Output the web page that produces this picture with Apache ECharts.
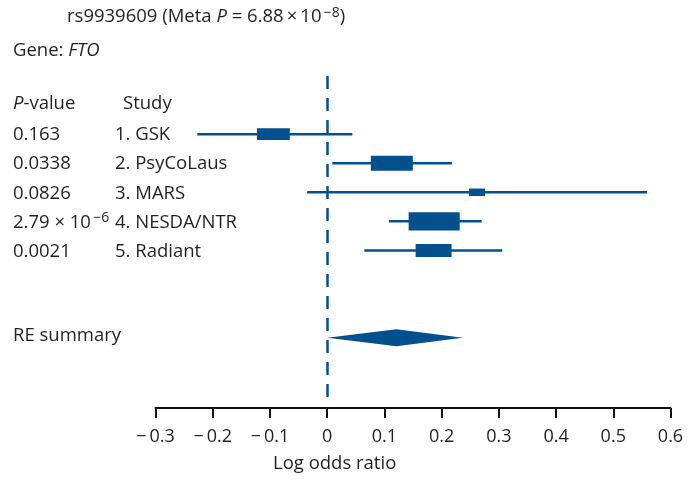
<!DOCTYPE html>
<html><head><meta charset="utf-8">
<script src="https://cdn.jsdelivr.net/npm/echarts@6/dist/echarts.min.js"></script>
<style>html,body{margin:0;padding:0;background:#fff}#c{width:696px;height:491px}</style>
</head><body><div id="c"></div>
<script>
// ---- data ----
const snp = 'rs9939609';
const metaP = '6.88e-8';
const gene = 'FTO';
const studies = ['1. GSK', '2. PsyCoLaus', '3. MARS', '4. NESDA/NTR', '5. Radiant'];
const pValues = ['0.163', '0.0338', '0.0826', '2.79e-6', '0.0021'];
const estimates = [-0.094, 0.113, 0.262, 0.187, 0.186];
const lowerCI = [-0.227, 0.009, -0.035, 0.108, 0.065];
const upperCI = [0.044, 0.218, 0.559, 0.270, 0.306];
const weights = [18.5, 23.6, 9.0, 28.7, 20.2];
const summaryLabel = 'RE summary';
const summaryEstimate = [0.121];
const summaryLower = [0.000];
const summaryUpper = [0.237];
const xTicks = [-0.3, -0.2, -0.1, 0, 0.1, 0.2, 0.3, 0.4, 0.5, 0.6];
const xAxisTitle = 'Log odds ratio';

// ---- styles ----
const BLUE = '#03508e';
const TXT = '#231f20';
const FONT = '"Open Sans", "Liberation Sans", sans-serif';
const FS = 18.5;
const summaryRow = studies.length + 2;

function fmtP(s) {
  if (s.indexOf('e') >= 0) {
    const parts = s.split('e');
    return parts[0] + ' \u00d7 10{sup|\u2009' + parts[1].replace('-', '\u2212') + '}';
  }
  return s;
}
const rich = {
  sup: { fontSize: 14, fontFamily: FONT, fill: TXT, color: TXT, verticalAlign: 'top', lineHeight: 22 },
  i: { fontStyle: 'italic', fontSize: FS, fontFamily: FONT, fill: TXT, color: TXT, lineHeight: 22 }
};

const chart = echarts.init(document.getElementById('c'));
chart.setOption({
  animation: false,
  backgroundColor: '#fff',
  grid: { left: 155.5, right: 25.5, top: 76, bottom: 83, containLabel: false },
  xAxis: {
    type: 'value', min: xTicks[0], max: xTicks[xTicks.length - 1], interval: 0.1,
    splitLine: { show: false },
    axisLine: { show: true, onZero: false, lineStyle: { color: '#111', width: 2 } },
    axisTick: { show: true, inside: false, length: 10, lineStyle: { color: '#111', width: 2 } },
    axisLabel: {
      margin: 20, fontSize: 18, fontFamily: FONT, color: TXT,
      formatter: v => {
        const r = Math.round(v * 10) / 10;
        return r < 0 ? '\u2212\u2009' + Math.abs(r).toFixed(1) : (r === 0 ? '0' : r.toFixed(1));
      }
    }
  },
  yAxis: { type: 'value', inverse: true, min: -2, max: 9.42, show: false },
  graphic: [
    { type: 'text', left: 67, top: 6, style: { text: snp + ' (Meta {i|P} = ' + fmtP(metaP).replace(' \u00d7 ', '\u2009\u00d7\u2009') + ')', rich: rich, font: FS + 'px ' + FONT, fill: TXT, lineHeight: 22 } },
    { type: 'text', left: 13, top: 40, style: { text: 'Gene: {i|' + gene + '}', rich: rich, font: FS + 'px ' + FONT, fill: TXT, lineHeight: 22 } },
    { type: 'text', left: 13, top: 93, style: { text: '{i|P}-value', rich: rich, font: FS + 'px ' + FONT, fill: TXT, lineHeight: 22 } },
    { type: 'text', left: 123, top: 93, style: { text: 'Study', font: FS + 'px ' + FONT, fill: TXT, lineHeight: 22 } },
    { type: 'text', left: 273, top: 453, style: { text: xAxisTitle, font: '18.5px ' + FONT, fill: TXT, lineHeight: 22 } }
  ],
  series: [
    {
      type: 'custom', name: 'labels',
      data: studies.map((s, i) => [i]),
      encode: { y: 0 },
      renderItem: (params, api) => {
        const i = params.dataIndex;
        const y = api.coord([0, api.value(0)])[1] + 1;
        return {
          type: 'group', children: [
            { type: 'text', x: 13, y: y, style: { text: fmtP(pValues[i]), rich: rich, font: FS + 'px ' + FONT, fill: TXT, verticalAlign: 'middle', lineHeight: 22 } },
            { type: 'text', x: 115, y: y, style: { text: studies[i], font: FS + 'px ' + FONT, fill: TXT, verticalAlign: 'middle', lineHeight: 22 } }
          ]
        };
      }
    },
    {
      type: 'custom', name: 'studies',
      data: studies.map((s, i) => [i, lowerCI[i], estimates[i], upperCI[i], weights[i]]),
      encode: { x: [1, 2, 3], y: 0 },
      renderItem: (params, api) => {
        const y = api.coord([0, api.value(0)])[1];
        const xl = api.coord([api.value(1), 0])[0];
        const xe = api.coord([api.value(2), 0])[0];
        const xu = api.coord([api.value(3), 0])[0];
        const w = api.value(4) * 1.78;
        const h = Math.max(7.5, w * 0.36);
        return {
          type: 'group', children: [
            { type: 'line', shape: { x1: xl, y1: y, x2: xu, y2: y }, style: { stroke: BLUE, lineWidth: 2.5 } },
            { type: 'rect', shape: { x: xe - w / 2, y: y - h / 2, width: w, height: h }, style: { fill: BLUE } }
          ]
        };
      },
      markLine: {
        silent: true, symbol: 'none', label: { show: false },
        lineStyle: { color: BLUE, width: 2.5, type: [13, 9] },
        data: [[{ coord: [0, -2] }, { coord: [0, 9.05] }]]
      }
    },
    {
      type: 'custom', name: 'summary',
      data: summaryEstimate.map((e, i) => [summaryRow, summaryLower[i], e, summaryUpper[i]]),
      encode: { x: [1, 2, 3], y: 0 },
      renderItem: (params, api) => {
        const y = api.coord([0, api.value(0)])[1];
        const xl = api.coord([api.value(1), 0])[0];
        const xe = api.coord([api.value(2), 0])[0];
        const xu = api.coord([api.value(3), 0])[0];
        const hh = 8.5;
        return {
          type: 'group', children: [
            { type: 'polygon', shape: { points: [[xl, y], [xe, y - hh], [xu, y], [xe, y + hh]] }, style: { fill: BLUE } },
            { type: 'text', x: 13, y: y - 2, style: { text: summaryLabel, font: FS + 'px ' + FONT, fill: TXT, verticalAlign: 'middle', lineHeight: 22 } }
          ]
        };
      }
    }
  ]
});
</script></body></html>
